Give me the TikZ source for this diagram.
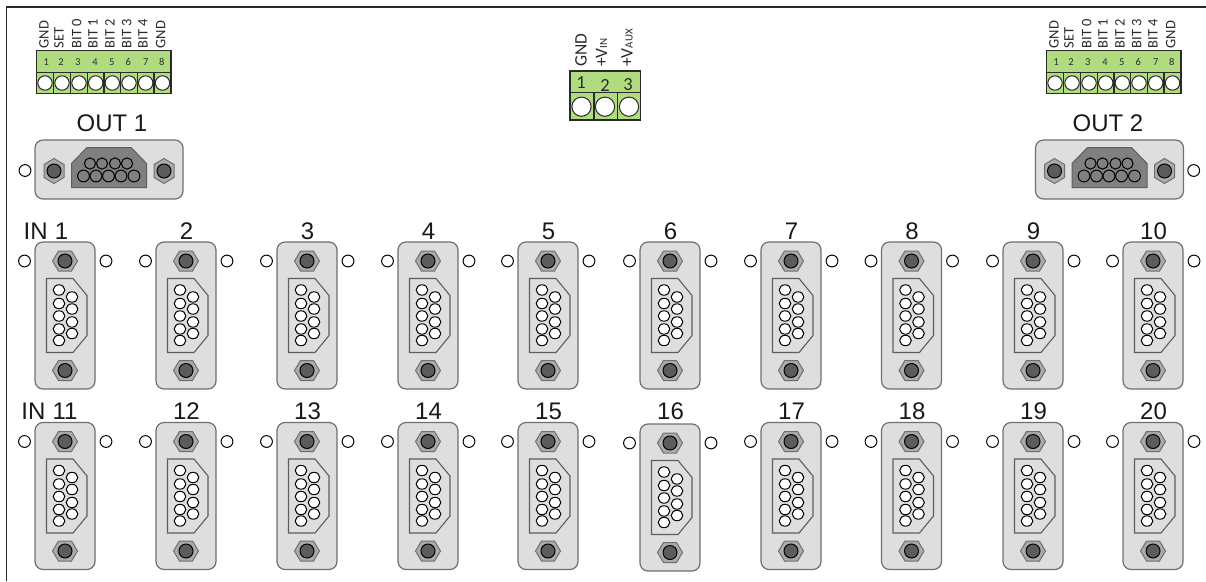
\documentclass[tikz,border=0pt]{standalone}
\usepackage{fontspec}
\setmainfont{Liberation Sans}
\newfontfamily\blockfont{Carlito}
\definecolor{plate}{HTML}{DEDEDE}
\definecolor{rim}{HTML}{6F6F6F}
\definecolor{hexfill}{HTML}{ABABAB}
\definecolor{bolt}{HTML}{5C5C5C}
\definecolor{shell}{HTML}{808080}
\definecolor{termgreen}{HTML}{B0DC7F}
\definecolor{inkdark}{HTML}{2A2A2A}

\tikzset{
  panelline/.style={line width=1.2pt, inkdark},
  platebody/.style={fill=plate, draw=rim, line width=1.2pt, rounded corners=8pt},
  hexnut/.style={fill=hexfill, draw=rim, line width=1pt},
  boltend/.style={fill=bolt, draw=black, line width=1pt},
  mounthole/.style={fill=white, draw=black, line width=1pt},
  pinhole/.style={fill=white, draw=black, line width=1pt},
  termbody/.style={fill=termgreen, draw=inkdark, line width=1.1pt},
  termhole/.style={fill=white, draw=inkdark, line width=1pt},
  chlabel/.style={font=\fontsize{24}{24}\selectfont, text=black!90, inner sep=0pt, anchor=center},
  sigsmall/.style={font=\blockfont\fontsize{14.5}{14.5}\selectfont, text=inkdark, rotate=90, anchor=west, inner sep=0pt},
  numsmall/.style={font=\blockfont\fontsize{10.5}{10.5}\selectfont, text=inkdark, inner sep=0pt},
  sigbig/.style={font=\blockfont\fontsize{17.5}{17.5}\selectfont, text=inkdark, rotate=90, anchor=west, inner sep=0pt},
  numbig/.style={font=\blockfont\fontsize{18.5}{18.5}\selectfont, text=inkdark, inner sep=0pt},
  % hex nut with its bolt
  pics/nutbolt/.style={code={
    \draw[hexnut] (-12.5,0) -- (-6.5,-10) -- (6.5,-10) -- (12.5,0) -- (6.5,10) -- (-6.5,10) -- cycle;
    \draw[boltend] (0,0) circle[radius=7pt];
  }},
  % upright input socket
  pics/dsubin/.style={code={
    \draw[platebody] (-30,-73.5) rectangle (30,73.5);
    \draw[mounthole] (-40.5,-54.5) circle[radius=5.9pt];
    \draw[mounthole] (41,-54.5) circle[radius=5.9pt];
    \pic at (0,-54.5) {nutbolt};
    \pic at (0,55) {nutbolt};
    \draw[fill=plate, draw=rim!85!black, line width=1.1pt] (-18.5,-37) -- (8,-37) -- (22,-20) -- (22,20) -- (8,37) -- (-18.5,37) -- cycle;
    \foreach \py in {-25.5,-12,0.5,13.5,25}
      \draw[pinhole] (-6,\py) ellipse[x radius=5.8pt, y radius=5.2pt];
    \foreach \py in {-18.5,-6.5,6.5,18}
      \draw[pinhole] (7,\py) ellipse[x radius=5.8pt, y radius=5.2pt];
  }},
  % lying output socket
  pics/dsubout/.style={code={
    \draw[platebody] (-74,-29.5) rectangle (74,29.5);
    \pic[rotate=90] at (-55,1.5) {nutbolt};
    \pic[rotate=90] at (55,1.5) {nutbolt};
    \draw[fill=shell, draw=rim!85!black, line width=1pt] (-37.5,18) -- (-37.5,-6) -- (-22,-22) -- (22,-22) -- (37.5,-6) -- (37.5,18) -- cycle;
    \foreach \px in {-19,-7,6,18}
      \draw[draw=black, line width=1pt] (\px,-6) circle[radius=5.6pt];
    \foreach \px in {-25.5,-13,-0.5,12,25}
      \draw[draw=black, line width=1pt] (\px,6.5) circle[radius=5.9pt];
  }},
}

\begin{document}
\begin{tikzpicture}[x=1pt,y=-1pt]
  \useasboundingbox (0,0) rectangle (1206,581);
  \coordinate (panelA) at (6.5,581);
  \coordinate (panelB) at (6.5,7);
  \coordinate (panelC) at (1206,7);
  \draw[panelline] (panelA) -- (panelB) -- (panelC);

  % eight way blocks
  \foreach \bx/\bn in {0/A,1010/B}{
    \begin{scope}[xshift=\bx pt]
      \draw[termbody] (36.7,50.7) rectangle (171,93.3);
      \draw[termbody] (36.7,72.3) -- (171,72.3);
      \foreach \dx in {53.3,70.7,87.3,104,120.7,137.3,154}
        \draw[termbody] (\dx,72.3) -- (\dx,93.3);
      \foreach \hx in {45,62,79,95.7,112.3,129,145.7,162.5}
        \draw[termhole] (\hx,83) circle[radius=7.2pt];
      \foreach \nx/\nt [count=\ni] in {46.3/1,61/2,77.7/3,95/4,111.7/5,128.3/6,145.7/7,161.7/8}
        \node[numsmall] (num\bn\ni) at (\nx,62) {\nt};
      \foreach \sx/\st [count=\si] in {44/GND,59/SET,76.7/BIT 0,93/BIT 1,110/BIT 2,126.7/BIT 3,143/BIT 4,160.7/GND}
        \node[sigsmall] (sig\bn\si) at (\sx,48.5) {\st};
    \end{scope}
  }

  % power block
  \draw[termbody] (570,71) rectangle (640.7,120);
  \draw[termbody] (570,92.3) -- (640.7,92.3) (594,92.3) -- (594,120) (617.3,92.3) -- (617.3,120);
  \foreach \hx in {581.5,605,629}
    \draw[termhole] (\hx,106.7) circle[radius=9.6pt];
  \node[numbig] (pwrA) at (581,83) {1};
  \node[numbig] (pwrB) at (605,85.5) {2};
  \node[numbig] (pwrC) at (628,85) {3};
  \node[sigbig] (gndLbl) at (581,67) {GND};
  \node[sigbig] (vinLbl) at (601.5,67) {+V{\fontsize{11}{11}\selectfont IN}};
  \node[sigbig] (vauxLbl) at (627,67) {+V{\fontsize{11}{11}\selectfont AUX}};

  % outputs
  \node[chlabel] (outA) at (112,123) {OUT 1};
  \node[chlabel] (outB) at (1108,123) {OUT 2};
  \pic at (109,169.5) {dsubout};
  \pic at (1109.5,169.5) {dsubout};
  \draw[mounthole] (25,170.5) circle[radius=5.9pt];
  \draw[mounthole] (1193.7,170.5) circle[radius=5.9pt];

  % inputs
  \foreach \cx/\la/\lb/\ly [count=\ci] in {65/1/11/496,186/2/12/496,307/3/13/496,428/4/14/496,548/5/15/496,670/6/16/497.5,791/7/17/496,911.5/8/18/496,1033/9/19/496,1153/10/20/496}{
    \pic at (\cx,315.5) {dsubin};
    \pic at (\cx,\ly) {dsubin};
    \ifnum\ci>1
      \node[chlabel] (inTop\ci) at (\cx+0.5,231) {\la};
      \node[chlabel] (inBot\ci) at (\cx+0.5,411) {\lb};
    \fi
  }
  \node[chlabel] (inTop1) at (46,231) {IN\hspace{.3em}1};
  \node[chlabel] (inBot1) at (49.5,411) {IN\hspace{.3em}11};
\end{tikzpicture}
\end{document}
